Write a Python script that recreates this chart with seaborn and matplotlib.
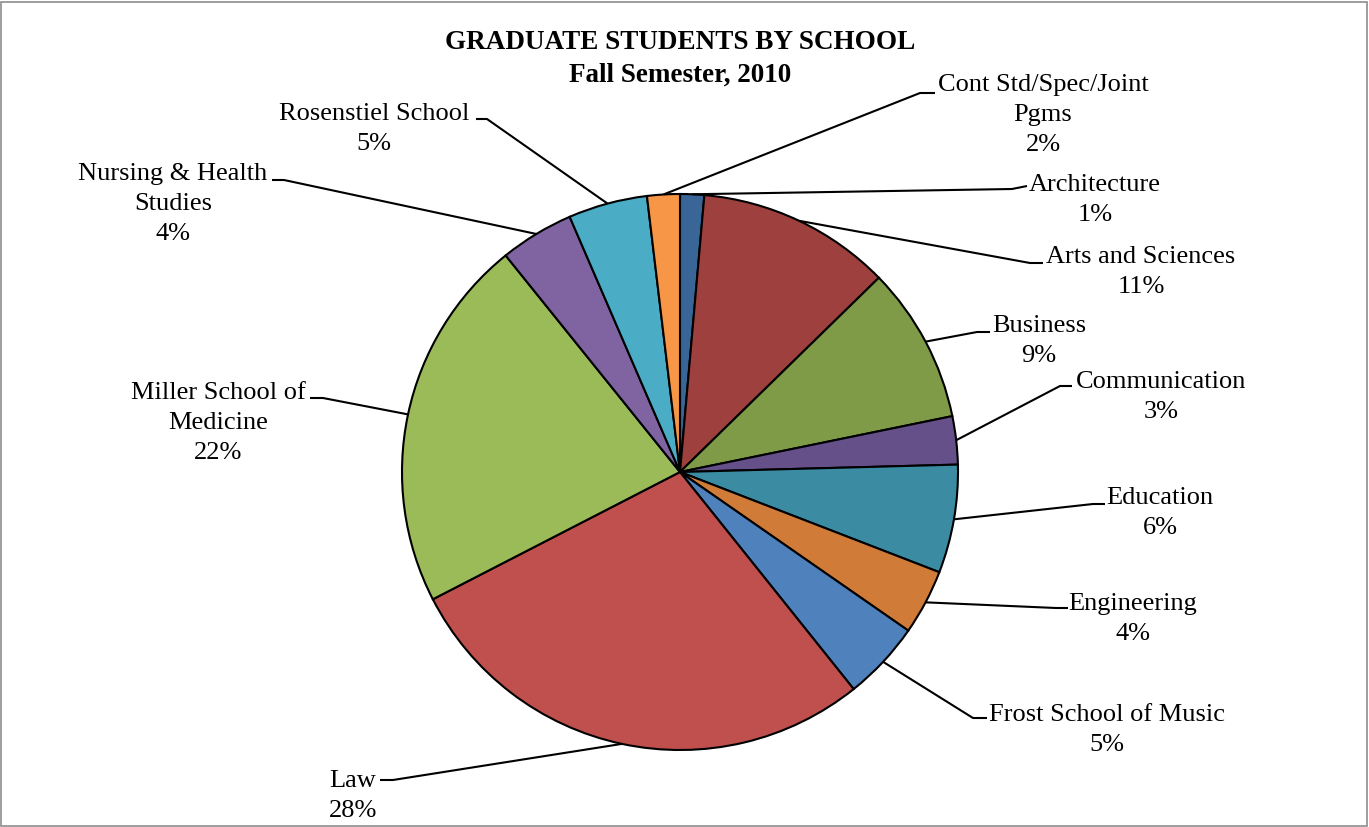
import matplotlib.pyplot as plt
import seaborn as sns
import numpy as np
from matplotlib.patches import Rectangle

# share of graduate students by school, clockwise from 12 o'clock (%)
schools = ["Architecture", "Arts and Sciences", "Business", "Communication",
           "Education", "Engineering", "Frost School of Music", "Law",
           "Miller School of Medicine", "Nursing & Health Studies",
           "Rosenstiel School", "Cont Std/Spec/Joint Pgms"]
shares = [1.4, 11.3, 9.1, 2.8, 6.3, 3.8, 4.6, 28.2, 21.8, 4.3, 4.6, 1.9]
label_names = ["Architecture", "Arts and Sciences", "Business", "Communication",
               "Education", "Engineering", "Frost School of Music", "Law",
               "Miller School of\nMedicine", "Nursing & Health\nStudies",
               "Rosenstiel School", "Cont Std/Spec/Joint\nPgms"]
colors = ["#3A6597", "#9E413E", "#7F9B48", "#66508A", "#3B8BA3", "#D07B38",
          "#4F81BD", "#C0504D", "#9BBB59", "#8064A2", "#4BACC6", "#F79646"]

# layout in pixel coordinates (origin top-left): label centre, elbow, stub end
label_xy = [(1095, 200), (1141, 272), (1039, 341), (1161, 397), (1160, 513),
            (1133, 619), (1107, 730), (353, 796), (218, 423), (173, 204),
            (374, 129), (1043, 115)]
elbow_xy = [(1012, 189), (1030, 263), (977, 332), (1060, 386), (1093, 504),
            (1056, 608), (973, 718), (393, 780), (323, 398), (284, 180),
            (487, 119), (920, 93)]
stub_xy = [(1027, 186), (1043, 263), (990, 332), (1072, 386), (1105, 504),
           (1068, 608), (987, 718), (380, 780), (310, 398), (272, 180),
           (476, 119), (935, 93)]

W, H = 1369, 827
cx, cy, R = 680, 472, 278


def Y(y):
    return H - y


sns.set_theme(style="white")
plt.rcParams["font.family"] = ["Liberation Serif", "DejaVu Serif"]

fig = plt.figure(figsize=(W / 100, H / 100), dpi=100)
ax = fig.add_axes([0, 0, 1, 1])

wedges, _ = ax.pie(shares, colors=colors, startangle=90, counterclock=False,
                   center=(cx, Y(cy)), radius=R, frame=True,
                   wedgeprops=dict(edgecolor="black", linewidth=1.5))
ax.set_xlim(0, W)
ax.set_ylim(0, H)
ax.set_aspect("equal")
ax.axis("off")

for w, name, val, (lx, ly), (ex, ey), (sx, sy) in zip(
        wedges, label_names, shares, label_xy, elbow_xy, stub_xy):
    mid = np.deg2rad((w.theta1 + w.theta2) / 2)
    px = cx + R * np.cos(mid)
    py = Y(cy) + R * np.sin(mid)
    ax.plot([px, ex, sx], [py, Y(ey), Y(sy)], color="black", lw=1.5,
            solid_capstyle="butt")
    ax.text(lx, Y(ly), f"{name}\n{round(val):d}%", ha="center", va="center",
            fontsize=19, linespacing=1.45, color="black")

ax.text(cx, Y(59), "GRADUATE STUDENTS BY SCHOOL\nFall Semester, 2010",
        ha="center", va="center", fontsize=19.5, fontweight="bold",
        linespacing=1.4, color="black")

fig.patches.append(Rectangle((1 / W, 1 / H), 1 - 3 / W, 1 - 3 / H,
                             transform=fig.transFigure, fill=False,
                             edgecolor="#8C8C8C", linewidth=1.2))

fig.savefig("out.png", dpi=100)
